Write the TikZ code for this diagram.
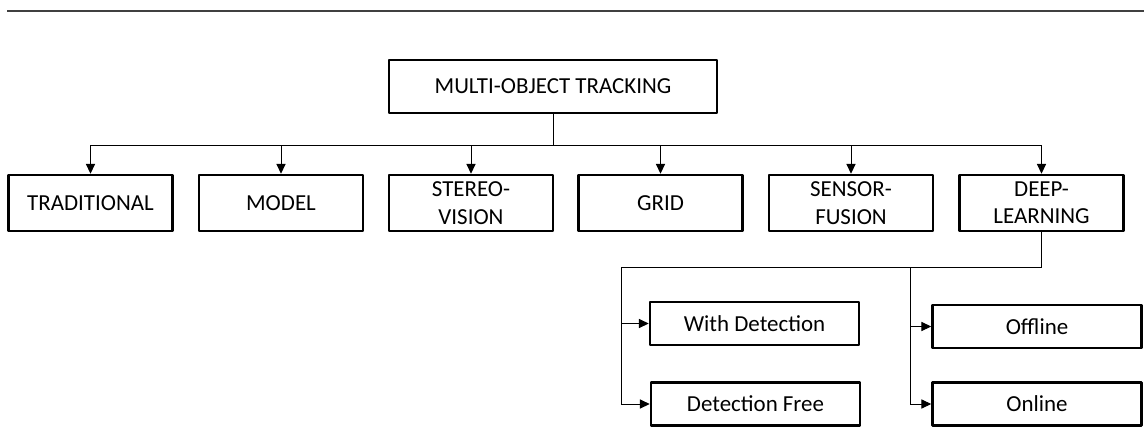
\documentclass[tikz,border=0pt]{standalone}
\usepackage{fontspec}
\setmainfont{Carlito}
\usetikzlibrary{arrows.meta,positioning}

\tikzset{
  box/.style={draw, line width=1.8pt, line join=round, align=center,
              font=\fontsize{16.3}{19.5}\selectfont, inner sep=2pt},
  branch/.style={box, minimum width=4.1cm, minimum height=1.4cm},
  leaf/.style={box, minimum width=5.225cm, minimum height=1.075cm},
  link/.style={line width=0.7pt},
  arrow/.style={link, -{Triangle[length=7pt,width=6.5pt]}},
}

\begin{document}
\begin{tikzpicture}[x=0.025cm, y=-0.025cm]
  \useasboundingbox (0,0) rectangle (1144,429);
  % rule across the top
  \draw[line width=1.1pt, black!75] (7,11) -- (1144,11);

  % root
  \node[box, minimum width=8.2cm, minimum height=1.325cm] (mot) at (553,86.5) {MULTI-OBJECT TRACKING};

  % first level
  \node[branch] (trad)   at (90.5,203)  {TRADITIONAL};
  \node[branch] (model)  at (281,203)   {MODEL};
  \node[branch] (stereo) at (471,203)   {STEREO-\\VISION};
  \node[branch] (grid)   at (660.5,203) {GRID};
  \node[branch] (fusion) at (851,203)   {SENSOR-\\FUSION};
  \node[branch] (deep)   at (1041.5,203) {DEEP-\\LEARNING};

  % deep learning split
  \node[leaf] (withdet) at (754.5,323.5) {With Detection};
  \node[leaf] (detfree) at (755.5,404)   {Detection Free};
  \node[leaf] (offline) at (1037,326.5)  {Offline};
  \node[leaf] (online)  at (1037,404)    {Online};

  % root to first level
  \coordinate (bus) at (553,145);
  \draw[link] (mot.south) -- (bus);
  \draw[link] (trad.north |- bus) -- (deep.north |- bus);
  \foreach \n in {trad,model,stereo,grid,fusion,deep}
    \draw[arrow] (\n.north |- bus) -- (\n.north);

  % deep learning to leaves
  \coordinate (dlL) at (621,267);
  \coordinate (dlR) at (910,267);
  \draw[link] (deep.south) |- (dlL);
  \draw[arrow] (dlL) |- (detfree.west);
  \draw[arrow] (dlL |- withdet.west) -- (withdet.west);
  \draw[arrow] (dlR) |- (online.west);
  \draw[arrow] (dlR |- offline.west) -- (offline.west);
\end{tikzpicture}
\end{document}
